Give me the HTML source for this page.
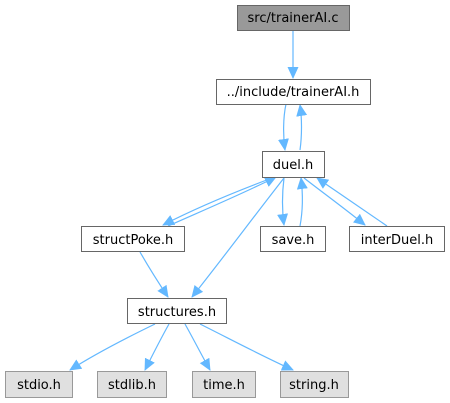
<!DOCTYPE html>
<html><head><style>body{margin:0;background:#fff}svg{display:block}text{font-family:"DejaVu Sans","Liberation Sans",sans-serif;font-size:13px;fill:#000}</style></head>
<body>
<svg width="450" height="403" viewBox="0 0 450 403" xmlns="http://www.w3.org/2000/svg">
<defs><marker id="a" markerWidth="12" markerHeight="12" refX="11" refY="5.5" orient="auto" markerUnits="userSpaceOnUse"><path d="M0,0 L12,5.5 L0,11 z" fill="#63b8ff"/></marker></defs>
<g stroke="#63b8ff" stroke-width="1.2" fill="none" marker-end="url(#a)">
<path d="M293,31 L293,78"/>
<path d="M286,104 C283,118 283,136 285,150"/>
<path d="M300,150 C302,136 302,118 300,105"/>
<path d="M272,178 C240,190 200,206 163,225"/>
<path d="M168,226 C204,210 242,194 276,177"/>
<path d="M284,178 C282,194 282,210 284,225"/>
<path d="M300,226 C303,210 303,194 301,178"/>
<path d="M304,178 C322,192 344,208 365,225"/>
<path d="M387,226 C364,210 340,194 317,178"/>
<path d="M284,178 C255,215 220,262 192,297"/>
<path d="M140,252 C148,266 158,282 168,297"/>
<path d="M155,324 C122,340 92,356 70,370"/>
<path d="M169,324 C160,340 152,356 145,370"/>
<path d="M185,324 C194,340 202,356 210,370"/>
<path d="M200,324 C232,340 262,356 293,370"/>
</g>
<g stroke-width="1">
<rect x="237.5" y="5.5" width="112" height="25" fill="#999" stroke="#666"/>
<rect x="216.5" y="79.5" width="154" height="25" fill="#fff" stroke="#666"/>
<rect x="262.5" y="151.5" width="62" height="26" fill="#fff" stroke="#666"/>
<rect x="81.5" y="226.5" width="103" height="25" fill="#fff" stroke="#666"/>
<rect x="260.5" y="226.5" width="65" height="25" fill="#fff" stroke="#666"/>
<rect x="349.5" y="226.5" width="95" height="25" fill="#fff" stroke="#666"/>
<rect x="127.5" y="298.5" width="99" height="25" fill="#fff" stroke="#666"/>
<rect x="5.5" y="371.5" width="67" height="26" fill="#e0e0e0" stroke="#999"/>
<rect x="97.5" y="371.5" width="69" height="26" fill="#e0e0e0" stroke="#999"/>
<rect x="192.5" y="371.5" width="63" height="26" fill="#e0e0e0" stroke="#999"/>
<rect x="280.5" y="371.5" width="68" height="26" fill="#e0e0e0" stroke="#999"/>
</g>
<g text-anchor="middle">
<text x="293" y="22">src/trainerAI.c</text>
<text x="293" y="96">../include/trainerAI.h</text>
<text x="293" y="169">duel.h</text>
<text x="133" y="244">structPoke.h</text>
<text x="293" y="244">save.h</text>
<text x="397" y="244">interDuel.h</text>
<text x="177" y="316">structures.h</text>
<text x="39" y="389">stdio.h</text>
<text x="132" y="389">stdlib.h</text>
<text x="224" y="389">time.h</text>
<text x="314" y="389">string.h</text>
</g>
</svg>
</body></html>
